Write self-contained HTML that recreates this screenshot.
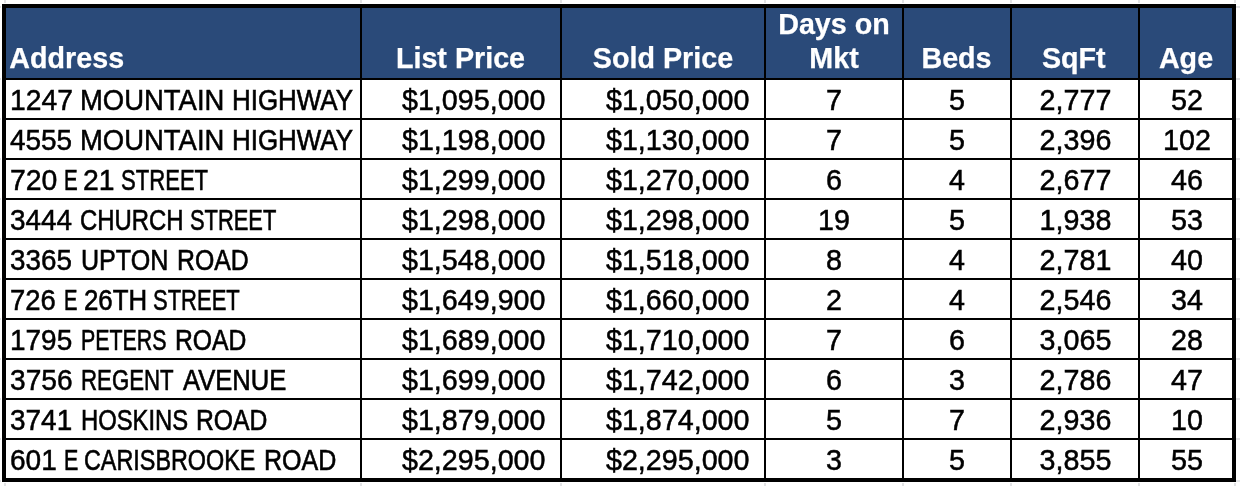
<!DOCTYPE html>
<html lang="en"><head><meta charset="utf-8"><title>Sold listings</title>
<style>
html,body{margin:0;padding:0;background:#fff;}
body{width:1240px;height:486px;position:relative;overflow:hidden;font-family:"Liberation Sans",sans-serif;}
.g{position:absolute;background:#e2e3e5;}
table{position:absolute;left:2px;top:4px;border-collapse:separate;border-spacing:0;border:4px solid #000;table-layout:fixed;width:1234px;}
th,td{box-sizing:border-box;padding:0;margin:0;border-right:2px solid #000;border-bottom:2px solid #000;white-space:nowrap;overflow:hidden;}
th:last-child,td:last-child{border-right:0;}
tr:last-child td{border-bottom:0;height:38px;}
th{height:72px;background:#2a4a79;color:#fff;font-family:"Liberation Sans",sans-serif;font-weight:bold;font-size:28.7px;line-height:34px;vertical-align:top;text-align:center;-webkit-text-stroke:0.25px #fff;}
th div{position:relative;height:70px;}
th span{position:absolute;left:0;right:0;bottom:3px;}
th.a{text-align:left;}
th.a span{left:3.3px;}
td{height:40px;color:#000;font-family:"Liberation Sans",sans-serif;font-size:28.7px;line-height:36px;vertical-align:top;text-align:center;padding-top:2px;-webkit-text-stroke:0.5px #000;}
td.a{text-align:left;}
td.a div{position:relative;height:36px;}
td.a span{position:absolute;top:0;left:0;transform-origin:0 50%;white-space:pre;}
td.p{text-align:right;padding-right:14.5px;}
td:nth-child(6){padding-left:1px;}
td:nth-child(7){padding-left:2px;}
</style></head><body>
<div class="g" style="left:4px;top:0;width:2px;height:3px"></div><div class="g" style="left:4px;top:483px;width:2px;height:3px"></div>
<div class="g" style="left:360px;top:0;width:2px;height:3px"></div><div class="g" style="left:360px;top:483px;width:2px;height:3px"></div>
<div class="g" style="left:560px;top:0;width:2px;height:3px"></div><div class="g" style="left:560px;top:483px;width:2px;height:3px"></div>
<div class="g" style="left:764px;top:0;width:2px;height:3px"></div><div class="g" style="left:764px;top:483px;width:2px;height:3px"></div>
<div class="g" style="left:902px;top:0;width:2px;height:3px"></div><div class="g" style="left:902px;top:483px;width:2px;height:3px"></div>
<div class="g" style="left:1010px;top:0;width:2px;height:3px"></div><div class="g" style="left:1010px;top:483px;width:2px;height:3px"></div>
<div class="g" style="left:1138px;top:0;width:2px;height:3px"></div><div class="g" style="left:1138px;top:483px;width:2px;height:3px"></div>
<div class="g" style="left:1234px;top:0;width:2px;height:3px"></div><div class="g" style="left:1234px;top:483px;width:2px;height:3px"></div>
<div class="g" style="left:0;top:6px;width:1px;height:2px"></div><div class="g" style="left:1236px;top:6px;width:4px;height:2px"></div>
<div class="g" style="left:0;top:78px;width:1px;height:2px"></div><div class="g" style="left:1236px;top:78px;width:4px;height:2px"></div>
<div class="g" style="left:0;top:118px;width:1px;height:2px"></div><div class="g" style="left:1236px;top:118px;width:4px;height:2px"></div>
<div class="g" style="left:0;top:158px;width:1px;height:2px"></div><div class="g" style="left:1236px;top:158px;width:4px;height:2px"></div>
<div class="g" style="left:0;top:198px;width:1px;height:2px"></div><div class="g" style="left:1236px;top:198px;width:4px;height:2px"></div>
<div class="g" style="left:0;top:238px;width:1px;height:2px"></div><div class="g" style="left:1236px;top:238px;width:4px;height:2px"></div>
<div class="g" style="left:0;top:278px;width:1px;height:2px"></div><div class="g" style="left:1236px;top:278px;width:4px;height:2px"></div>
<div class="g" style="left:0;top:318px;width:1px;height:2px"></div><div class="g" style="left:1236px;top:318px;width:4px;height:2px"></div>
<div class="g" style="left:0;top:358px;width:1px;height:2px"></div><div class="g" style="left:1236px;top:358px;width:4px;height:2px"></div>
<div class="g" style="left:0;top:398px;width:1px;height:2px"></div><div class="g" style="left:1236px;top:398px;width:4px;height:2px"></div>
<div class="g" style="left:0;top:438px;width:1px;height:2px"></div><div class="g" style="left:1236px;top:438px;width:4px;height:2px"></div>
<div class="g" style="left:0;top:480px;width:1px;height:2px"></div><div class="g" style="left:1236px;top:480px;width:4px;height:2px"></div>
<table><colgroup><col style="width:356px"><col style="width:200px"><col style="width:204px"><col style="width:138px"><col style="width:108px"><col style="width:128px"><col style="width:92px"></colgroup>
<thead><tr><th class="a"><div><span>Address</span></div></th><th class="p"><div><span style="margin-left:-1.0px">List Price</span></div></th><th class="p"><div><span>Sold Price</span></div></th><th class="c"><div><span>Days on<br>Mkt</span></div></th><th class="c"><div><span style="margin-left:-1.0px">Beds</span></div></th><th class="c"><div><span style="margin-left:-2.4px">SqFt</span></div></th><th class="c"><div><span>Age</span></div></th></tr></thead>
<tbody>
<tr><td class="a"><div><span style="left:3.68px;transform:scaleX(0.9856);-webkit-text-stroke-width:0.50px">1247</span> <span style="left:74.20px;transform:scaleX(0.9567);-webkit-text-stroke-width:0.53px">MOUNTAIN</span> <span style="left:225.93px;transform:scaleX(0.9037);-webkit-text-stroke-width:0.61px">HIGHWAY</span></div></td><td class="p">$1,095,000</td><td class="p">$1,050,000</td><td class="c">7</td><td class="c">5</td><td class="c">2,777</td><td class="c">52</td></tr>
<tr><td class="a"><div><span style="left:4.20px;transform:scaleX(0.9727);-webkit-text-stroke-width:0.50px">4555</span> <span style="left:74.20px;transform:scaleX(0.9567);-webkit-text-stroke-width:0.53px">MOUNTAIN</span> <span style="left:225.93px;transform:scaleX(0.9037);-webkit-text-stroke-width:0.61px">HIGHWAY</span></div></td><td class="p">$1,198,000</td><td class="p">$1,130,000</td><td class="c">7</td><td class="c">5</td><td class="c">2,396</td><td class="c">102</td></tr>
<tr><td class="a"><div><span style="left:4.08px;transform:scaleX(0.9902);-webkit-text-stroke-width:0.50px">720</span> <span style="left:58.36px;transform:scaleX(0.7160);-webkit-text-stroke-width:0.62px">E</span> <span style="left:77.38px;transform:scaleX(0.9887);-webkit-text-stroke-width:0.50px">21</span> <span style="left:115.41px;transform:scaleX(0.7697);-webkit-text-stroke-width:0.62px">STREET</span></div></td><td class="p">$1,299,000</td><td class="p">$1,270,000</td><td class="c">6</td><td class="c">4</td><td class="c">2,677</td><td class="c">46</td></tr>
<tr><td class="a"><div><span style="left:4.18px;transform:scaleX(0.9733);-webkit-text-stroke-width:0.50px">3444</span> <span style="left:73.60px;transform:scaleX(0.8329);-webkit-text-stroke-width:0.62px">CHURCH</span> <span style="left:183.82px;transform:scaleX(0.7625);-webkit-text-stroke-width:0.62px">STREET</span></div></td><td class="p">$1,298,000</td><td class="p">$1,298,000</td><td class="c">19</td><td class="c">5</td><td class="c">1,938</td><td class="c">53</td></tr>
<tr><td class="a"><div><span style="left:4.19px;transform:scaleX(0.9698);-webkit-text-stroke-width:0.51px">3365</span> <span style="left:74.92px;transform:scaleX(0.8740);-webkit-text-stroke-width:0.62px">UPTON</span> <span style="left:170.71px;transform:scaleX(0.8648);-webkit-text-stroke-width:0.62px">ROAD</span></div></td><td class="p">$1,548,000</td><td class="p">$1,518,000</td><td class="c">8</td><td class="c">4</td><td class="c">2,781</td><td class="c">40</td></tr>
<tr><td class="a"><div><span style="left:4.43px;transform:scaleX(0.9557);-webkit-text-stroke-width:0.53px">726</span> <span style="left:58.19px;transform:scaleX(0.7033);-webkit-text-stroke-width:0.62px">E</span> <span style="left:78.01px;transform:scaleX(0.9001);-webkit-text-stroke-width:0.62px">26TH</span> <span style="left:147.41px;transform:scaleX(0.7670);-webkit-text-stroke-width:0.62px">STREET</span></div></td><td class="p">$1,649,900</td><td class="p">$1,660,000</td><td class="c">2</td><td class="c">4</td><td class="c">2,546</td><td class="c">34</td></tr>
<tr><td class="a"><div><span style="left:3.90px;transform:scaleX(0.9743);-webkit-text-stroke-width:0.50px">1795</span> <span style="left:75.09px;transform:scaleX(0.7454);-webkit-text-stroke-width:0.62px">PETERS</span> <span style="left:168.52px;transform:scaleX(0.8610);-webkit-text-stroke-width:0.62px">ROAD</span></div></td><td class="p">$1,689,000</td><td class="p">$1,710,000</td><td class="c">7</td><td class="c">6</td><td class="c">3,065</td><td class="c">28</td></tr>
<tr><td class="a"><div><span style="left:4.17px;transform:scaleX(0.9802);-webkit-text-stroke-width:0.50px">3756</span> <span style="left:75.02px;transform:scaleX(0.7749);-webkit-text-stroke-width:0.62px">REGENT</span> <span style="left:176.57px;transform:scaleX(0.8925);-webkit-text-stroke-width:0.62px">AVENUE</span></div></td><td class="p">$1,699,000</td><td class="p">$1,742,000</td><td class="c">6</td><td class="c">3</td><td class="c">2,786</td><td class="c">47</td></tr>
<tr><td class="a"><div><span style="left:4.18px;transform:scaleX(0.9743);-webkit-text-stroke-width:0.50px">3741</span> <span style="left:74.89px;transform:scaleX(0.8299);-webkit-text-stroke-width:0.62px">HOSKINS</span> <span style="left:190.32px;transform:scaleX(0.8622);-webkit-text-stroke-width:0.62px">ROAD</span></div></td><td class="p">$1,879,000</td><td class="p">$1,874,000</td><td class="c">5</td><td class="c">7</td><td class="c">2,936</td><td class="c">10</td></tr>
<tr><td class="a"><div><span style="left:3.80px;transform:scaleX(0.9787);-webkit-text-stroke-width:0.50px">601</span> <span style="left:57.68px;transform:scaleX(0.7480);-webkit-text-stroke-width:0.62px">E</span> <span style="left:78.23px;transform:scaleX(0.8143);-webkit-text-stroke-width:0.62px">CARISBROOKE</span> <span style="left:258.39px;transform:scaleX(0.8736);-webkit-text-stroke-width:0.62px">ROAD</span></div></td><td class="p">$2,295,000</td><td class="p">$2,295,000</td><td class="c">3</td><td class="c">5</td><td class="c">3,855</td><td class="c">55</td></tr>
</tbody></table></body></html>
